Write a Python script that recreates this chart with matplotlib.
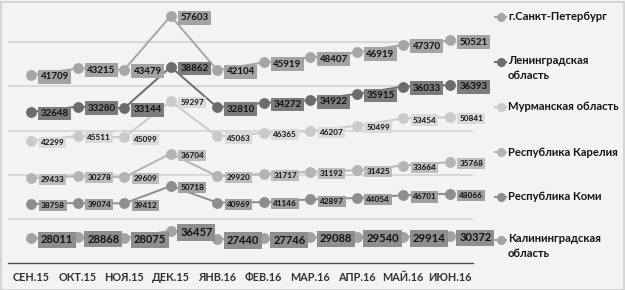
import matplotlib
matplotlib.use("Agg")
import matplotlib.pyplot as plt
from matplotlib.lines import Line2D
from matplotlib.patches import Rectangle
import numpy as np

months = ["СЕН.15", "ОКТ.15", "НОЯ.15", "ДЕК.15", "ЯНВ.16", "ФЕВ.16",
          "МАР.16", "АПР.16", "МАЙ.16", "ИЮН.16"]

spb = [41709, 43215, 43479, 57603, 42104, 45919, 48407, 46919, 47370, 50521]
len_obl = [32648, 33280, 33144, 38862, 32810, 34272, 34922, 35915, 36033, 36393]
murm = [42299, 45511, 45099, 59297, 45063, 46365, 46207, 50499, 53454, 50841]
karel = [29433, 30278, 29609, 36704, 29920, 31717, 31192, 31425, 33664, 35768]
komi = [38758, 39074, 39412, 50718, 40969, 41146, 42897, 44054, 46701, 48066]
kalin = [28011, 28868, 28075, 36457, 27440, 27746, 29088, 29540, 29914, 30372]

names = ["Калининградская\nобласть", "Республика Коми", "Республика Карелия",
         "Мурманская область", "Ленинградская\nобласть", "г.Санкт-Петербург"]
series = [kalin, komi, karel, murm, len_obl, spb]  # stacking order bottom -> top

line_colors = ["#a2a2a2", "#8e8e8e", "#b4b4b4", "#cacaca", "#6c6c6c", "#a6a6a6"]
box_colors = ["#8e8e8e", "#a0a0a0", "#bcbcbc", "#dadada", "#7c7c7c", "#a3a3a3"]
label_sizes = [8.0, 5.9, 5.9, 5.9, 7.0, 7.0]

label_family = ["Liberation Sans Narrow", "Lato", "DejaVu Sans"]
text_family = ["Lato", "DejaVu Sans"]

W, H = 625, 290
fig = plt.figure(figsize=(W / 100, H / 100), dpi=100)
fig.patch.set_facecolor("#f3f3f3")
fig.patches.append(Rectangle((0.5 / W, 0.5 / H), 1 - 2 / W, 1 - 2 / H,
                             transform=fig.transFigure, fill=False,
                             edgecolor="#cfcfcf", linewidth=1.2))

ax = fig.add_axes([8 / W, 27 / H, 465 / W, 265 / H])
ax.patch.set_alpha(0)
x = np.arange(len(months))
ax.set_xlim(-0.5, len(months) - 0.5)
ax.set_ylim(0, 300000)

for yv in range(50000, 300001, 50000):
    ax.axhline(yv, color="#d6d6d6", lw=1.3, zorder=0)

cum = np.zeros(len(months))
for vals, col, bcol, fs in zip(series, line_colors, box_colors, label_sizes):
    vals = np.array(vals, dtype=float)
    cum = cum + vals
    ax.plot(x, cum, color=col, lw=1.4, marker="o", markersize=6.8,
            markerfacecolor=col, markeredgecolor=col, zorder=3, clip_on=False)
    for xi, yi, v in zip(x, cum, vals):
        ax.annotate(f"{int(v)}", (xi, yi), xytext=(6.8, -1.2),
                    textcoords="offset points", ha="left", va="center",
                    fontsize=fs, fontweight="bold", family=label_family,
                    color="#111111", zorder=4,
                    bbox=dict(boxstyle="square,pad=0.25", facecolor=bcol,
                              edgecolor="none"))

for s in ["top", "right", "left"]:
    ax.spines[s].set_visible(False)
ax.spines["bottom"].set_color("#505050")
ax.spines["bottom"].set_linewidth(1.0)
ax.set_yticks([])
ax.set_xticks(x)
ax.set_xticklabels(months, fontsize=7.8, fontweight="bold", family=text_family,
                   color="#333333")
ax.tick_params(axis="x", length=0, pad=6.5)

# legend (manual placement, as in the original layout)
legend_y = [240, 197, 152, 107, 62, 17]  # pixel rows from top for the handle
for name, col, yp in zip(names, line_colors, legend_y):
    yf = 1 - yp / H
    fig.add_artist(Line2D([495 / W, 506 / W], [yf, yf], transform=fig.transFigure,
                          color=col, lw=1.4))
    fig.add_artist(Line2D([500.5 / W], [yf], transform=fig.transFigure,
                          color=col, marker="o", markersize=5.5, lw=0))
    if "\n" in name:
        fig.text(508 / W, yf + 7.5 / H, name, ha="left", va="top",
                 fontsize=8.1, fontweight="bold", family=text_family,
                 color="#151515", linespacing=1.45)
    else:
        fig.text(508 / W, yf, name, ha="left", va="center",
                 fontsize=8.1, fontweight="bold", family=text_family,
                 color="#151515")

fig.savefig("out.png", dpi=100, facecolor=fig.get_facecolor())
